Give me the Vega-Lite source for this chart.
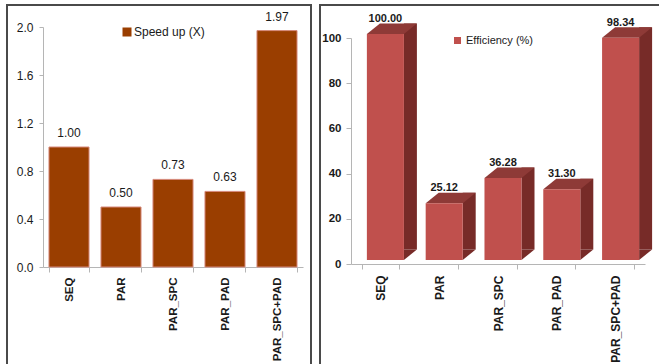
{
  "$schema": "https://vega.github.io/schema/vega-lite/v6.json",
  "padding": {"left": 0, "top": 4, "right": 0, "bottom": 0},
  "spacing": 9,
  "bounds": "flush",
  "resolve": {"scale": {"color": "independent"}, "legend": {"color": "independent"}},
  "config": {
    "font": "Liberation Sans",
    "axis": {"grid": false, "labelColor": "#1a1a1a", "title": null, "domainColor": "#b5b5b5", "tickColor": "#b5b5b5"},
    "legend": {"title": null}
  },
  "datasets": {
    "speed": [
      {"config": "SEQ", "value": 1.00, "series": "Speed up (X)"},
      {"config": "PAR", "value": 0.50, "series": "Speed up (X)"},
      {"config": "PAR_SPC", "value": 0.73, "series": "Speed up (X)"},
      {"config": "PAR_PAD", "value": 0.63, "series": "Speed up (X)"},
      {"config": "PAR_SPC+PAD", "value": 1.97, "series": "Speed up (X)"}
    ],
    "efficiency": [
      {"config": "SEQ", "value": 100.00, "series": "Efficiency (%)"},
      {"config": "PAR", "value": 25.12, "series": "Efficiency (%)"},
      {"config": "PAR_SPC", "value": 36.28, "series": "Efficiency (%)"},
      {"config": "PAR_PAD", "value": 31.30, "series": "Efficiency (%)"},
      {"config": "PAR_SPC+PAD", "value": 98.34, "series": "Efficiency (%)"}
    ],
    "floor": [
      {"first": "SEQ", "last": "PAR_SPC+PAD"}
    ]
  },
  "hconcat": [
    {
      "width": 304,
      "height": 360,
      "view": {"stroke": "#4a4a4a", "strokeWidth": 2},
      "data": {"name": "speed"},
      "encoding": {
        "x": {
          "field": "config", "type": "nominal", "sort": null,
          "scale": {"range": [36, 296], "paddingInner": 0.23, "paddingOuter": 0.115},
          "axis": {"labelAngle": -90, "offset": -98, "tickBand": "extent", "tickSize": 5, "labelFontSize": 11.5, "labelFontWeight": "bold", "labelPadding": 5}
        },
        "y": {
          "field": "value", "type": "quantitative",
          "scale": {"domain": [0, 2], "range": [262, 22], "nice": false},
          "axis": {"values": [0, 0.4, 0.8, 1.2, 1.6, 2.0], "format": ".1f", "offset": -36, "tickSize": 4, "labelFontSize": 12, "labelPadding": 6}
        }
      },
      "layer": [
        {
          "mark": {"type": "bar", "stroke": "#d6897c", "strokeWidth": 1},
          "encoding": {
            "color": {
              "field": "series", "type": "nominal",
              "scale": {"range": ["#9a3e00"]},
              "legend": {"orient": "none", "legendX": 114, "legendY": 21, "symbolType": "square", "symbolSize": 81, "labelFontSize": 12, "labelColor": "#1a1a1a", "padding": 0, "labelOffset": 1, "symbolStrokeWidth": 0}
            }
          }
        },
        {
          "mark": {"type": "text", "baseline": "alphabetic", "yOffset": -10, "fontSize": 12, "color": "#1a1a1a"},
          "encoding": {"text": {"field": "value", "type": "quantitative", "format": ".2f"}}
        }
      ]
    },
    {
      "width": 341,
      "height": 360,
      "view": {"stroke": "#4a4a4a", "strokeWidth": 2},
      "encoding": {
        "x": {
          "field": "config", "type": "nominal", "sort": null,
          "scale": {"range": [31, 325], "paddingInner": 0.37, "paddingOuter": 0.185},
          "axis": {"labelAngle": -90, "offset": -101, "tickBand": "extent", "tickSize": 5, "labelFontSize": 12, "labelFontWeight": "bold", "labelPadding": 6}
        },
        "y": {
          "field": "value", "type": "quantitative",
          "scale": {"domain": [0, 100], "range": [259, 33], "nice": false},
          "axis": {"values": [0, 20, 40, 60, 80, 100], "offset": -31, "tickSize": 5, "labelFontSize": 11.5, "labelFontWeight": "bold", "labelPadding": 5}
        }
      },
      "layer": [
        {
          "data": {"name": "floor"},
          "mark": {"type": "rule", "color": "#c4c4c4", "strokeWidth": 1.2, "xOffset": -16.4, "x2Offset": 42.4, "yOffset": -14},
          "encoding": {
            "x": {"field": "first", "type": "nominal", "sort": null},
            "x2": {"field": "last"},
            "y": {"datum": 0}
          }
        },
        {
          "data": {"name": "floor"},
          "mark": {"type": "rule", "color": "#c4c4c4", "strokeWidth": 1.2, "xOffset": -29.4, "x2Offset": -16.4, "yOffset": 0, "y2Offset": -14},
          "encoding": {
            "x": {"field": "first", "type": "nominal", "sort": null},
            "x2": {"field": "first"},
            "y": {"datum": 0},
            "y2": {"datum": 0}
          }
        },
        {
          "data": {"name": "floor"},
          "mark": {"type": "rule", "color": "#c4c4c4", "strokeWidth": 1.2, "xOffset": 29.4, "x2Offset": 42.4, "yOffset": 0, "y2Offset": -14},
          "encoding": {
            "x": {"field": "last", "type": "nominal", "sort": null},
            "x2": {"field": "last"},
            "y": {"datum": 0},
            "y2": {"datum": 0}
          }
        },
        {
          "data": {"name": "efficiency"},
          "mark": {"type": "bar", "width": 13, "xOffset": 30, "yOffset": -14.5, "y2Offset": -14.5, "color": "#772b28"}
        },
        {
          "data": {"name": "efficiency"},
          "mark": {"type": "point", "shape": "M-1,-0.808L-1,0.808L1,-0.808Z", "size": 169, "filled": true, "opacity": 1, "strokeWidth": 0, "color": "#772b28", "xOffset": 30, "yOffset": -9.25},
          "encoding": {"y": {"datum": 0}}
        },
        {
          "data": {"name": "efficiency"},
          "mark": {"type": "point", "shape": "M-1,0.21L0.48,0.21L1,-0.21L-0.48,-0.21Z", "size": 2500, "filled": true, "opacity": 1, "strokeWidth": 0, "color": "#8e3a37", "xOffset": 11.5, "yOffset": -9.25}
        },
        {
          "data": {"name": "efficiency"},
          "mark": {"type": "bar", "xOffset": 5, "yOffset": -4, "y2Offset": -4},
          "encoding": {
            "color": {
              "field": "series", "type": "nominal",
              "scale": {"range": ["#c0504d"]},
              "legend": {"orient": "none", "legendX": 132, "legendY": 30, "symbolType": "square", "symbolSize": 49, "labelFontSize": 11, "labelColor": "#1a1a1a", "padding": 0, "labelOffset": 3, "symbolStrokeWidth": 0}
            }
          }
        },
        {
          "data": {"name": "efficiency"},
          "mark": {"type": "text", "baseline": "alphabetic", "xOffset": 5, "yOffset": -16, "fontSize": 11, "fontWeight": "bold", "color": "#1a1a1a"},
          "encoding": {"text": {"field": "value", "type": "quantitative", "format": ".2f"}}
        }
      ]
    }
  ]
}
